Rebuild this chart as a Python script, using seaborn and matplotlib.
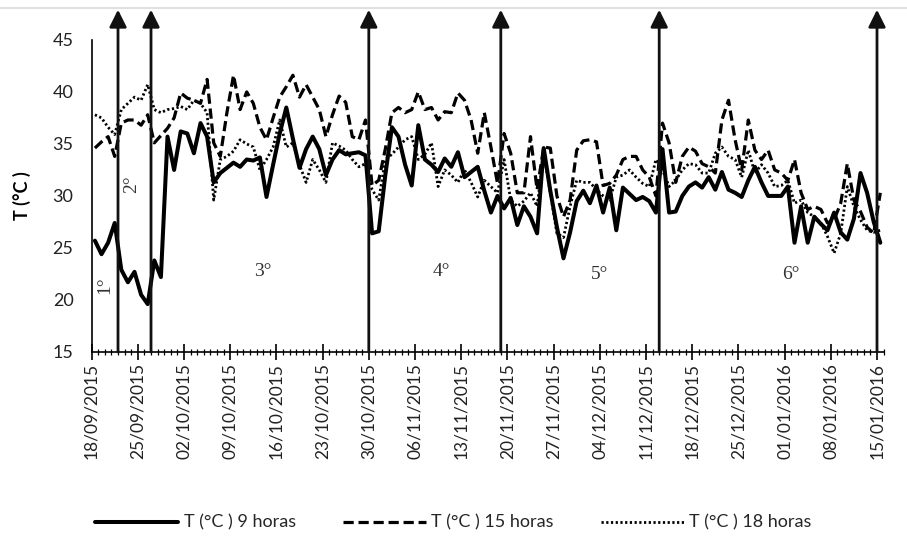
import numpy as np
import pandas as pd
import matplotlib
matplotlib.use("Agg")
import matplotlib.pyplot as plt
import matplotlib.dates as mdates
from matplotlib.lines import Line2D
import seaborn as sns

# ---------------- data ----------------
start_date = "2015-09-18"
series_names = ["T (°C ) 9 horas", "T (°C ) 15 horas", "T (°C ) 18 horas"]

t9 = [25.7, 24.4, 25.5, 27.4, 22.9, 21.7, 22.7, 20.5, 19.6, 23.8,
      22.2, 35.7, 32.5, 36.2, 36.0, 34.1, 37.0, 35.7, 31.3, 32.2,
      32.7, 33.2, 32.8, 33.5, 33.4, 33.7, 29.9, 33.0, 36.0, 38.5,
      35.5, 32.7, 34.5, 35.7, 34.5, 32.0, 33.5, 34.4, 34.0, 34.1,
      34.2, 33.9, 26.4, 26.6, 32.0, 36.6, 35.7, 33.0, 31.0, 36.8,
      33.5, 33.0, 32.3, 33.6, 32.8, 34.2, 31.8, 32.3, 32.8, 30.5,
      28.4, 30.0, 28.8, 29.8, 27.2, 29.0, 28.0, 26.4, 34.6, 30.5,
      27.0, 24.0, 26.5, 29.5, 30.5, 29.3, 31.0, 28.4, 30.8, 26.7,
      30.8, 30.2, 29.6, 29.9, 29.5, 28.4, 34.5, 28.4, 28.5, 30.0,
      30.9, 31.3, 30.8, 31.8, 30.6, 32.3, 30.6, 30.3, 29.9, 31.5,
      32.8, 31.3, 30.0, 30.0, 30.0, 30.9, 25.5, 29.0, 25.5, 28.0,
      27.3, 26.7, 28.4, 26.5, 25.8, 27.8, 32.2, 30.3, 27.5, 25.5]

t15 = [34.6, 35.2, 35.7, 33.8, 37.0, 37.3, 37.3, 36.8, 37.8, 35.1,
       35.8, 36.5, 37.5, 39.9, 39.4, 39.2, 38.9, 41.2, 35.1, 33.8,
       38.0, 41.6, 38.3, 40.0, 38.9, 36.6, 35.4, 37.5, 39.5, 40.5,
       41.6, 39.5, 40.7, 39.5, 38.3, 35.7, 37.8, 39.6, 39.0, 35.7,
       35.4, 37.3, 31.0, 31.5, 34.5, 38.0, 38.5, 38.0, 38.3, 40.0,
       38.3, 38.5, 37.3, 38.1, 38.0, 39.9, 39.2, 37.3, 34.1, 38.0,
       34.7, 31.2, 36.0, 34.1, 30.3, 30.3, 35.7, 30.6, 34.7, 34.6,
       30.0, 28.0, 29.6, 34.4, 35.3, 35.4, 35.2, 31.0, 31.2, 32.0,
       33.5, 33.8, 33.8, 32.5, 31.8, 30.0, 37.0, 35.1, 31.3, 33.8,
       34.7, 34.3, 33.1, 32.8, 32.2, 37.3, 39.2, 35.4, 32.5, 37.3,
       34.4, 33.5, 34.4, 32.5, 32.2, 31.5, 33.5, 30.3, 28.7, 29.0,
       28.7, 27.4, 27.7, 29.3, 33.1, 29.6, 28.5, 27.0, 26.4, 30.3]

t18 = [37.8, 37.5, 36.6, 35.9, 38.3, 38.9, 39.5, 39.2, 40.7, 38.3,
       38.0, 38.3, 38.4, 38.6, 38.3, 39.2, 38.9, 38.0, 29.6, 33.5,
       33.8, 34.3, 35.4, 35.0, 34.7, 32.5, 33.5, 34.7, 37.3, 34.7,
       35.1, 33.0, 31.3, 33.5, 32.5, 31.3, 35.1, 34.8, 34.4, 33.5,
       32.8, 33.1, 30.6, 29.6, 33.5, 34.0, 34.7, 35.4, 35.7, 33.5,
       34.0, 35.1, 30.9, 32.5, 32.0, 31.3, 32.5, 31.3, 29.9, 31.5,
       30.9, 30.3, 33.5, 29.6, 29.0, 29.5, 30.3, 29.0, 34.1, 30.3,
       26.4, 26.0, 29.0, 31.5, 31.3, 31.3, 30.6, 30.0, 29.6, 31.8,
       32.0, 32.5, 31.8, 31.2, 30.9, 33.5, 32.5, 30.9, 31.5, 32.5,
       33.1, 33.0, 32.2, 32.2, 34.1, 34.7, 33.8, 33.5, 31.8, 34.4,
       32.2, 33.0, 32.2, 30.9, 31.0, 31.5, 29.3, 29.6, 28.4, 28.0,
       27.4, 26.1, 24.5, 26.4, 30.9, 29.0, 27.7, 26.7, 26.5, 26.7]

stage_dates = ["2015-09-22", "2015-09-27", "2015-10-30",
               "2015-11-19", "2015-12-13", "2016-01-15"]
stage_labels = ["1°", "2°", "3°", "4°", "5°", "6°"]
stage_label_dates = ["2015-09-20", "2015-09-24", "2015-10-14",
                     "2015-11-10", "2015-12-04", "2016-01-02"]
stage_label_temps = [21.4, 31.1, 22.7, 22.7, 22.4, 22.4]
y_ticks = [15, 20, 25, 30, 35, 40, 45]

# ---------------- build frame ----------------
n = len(t9)
day0 = pd.Timestamp(start_date)
dates = pd.date_range(start_date, periods=n, freq="D") + pd.Timedelta(hours=12)
df = pd.DataFrame({
    "Fecha": np.tile(dates, 3),
    "T": t9 + t15 + t18,
    "Serie": np.repeat(series_names, n),
})

sns.set_theme(style="white")
plt.rcParams["font.family"] = ["Lato", "DejaVu Sans"]

fig = plt.figure(figsize=(9.07, 5.39), dpi=100)
ax = fig.add_axes([0.101, 0.347, 0.8732, 0.579])

styles = {
    series_names[0]: dict(lw=2.9, ls="-"),
    series_names[1]: dict(lw=2.3, ls=(0, (3.2, 1.5))),
    series_names[2]: dict(lw=2.0, ls=(0, (0.8, 0.9))),
}
handles = []
for name in series_names:
    sub = df[df["Serie"] == name]
    st = styles[name]
    sns.lineplot(data=sub, x="Fecha", y="T", color="black",
                 linewidth=st["lw"], linestyle=st["ls"], ax=ax, legend=False)
    handles.append(Line2D([0], [0], color="black", lw=st["lw"], ls=st["ls"], label=name))

# axes limits & ticks
ax.set_xlim(mdates.date2num(day0), mdates.date2num(day0 + pd.Timedelta(days=n)))
ax.set_ylim(15, 45)
ax.set_yticks(y_ticks)
ax.set_yticklabels([str(v) for v in y_ticks], fontsize=13, color="#222222")
ax.tick_params(axis="y", length=0, pad=13)

major = pd.date_range(start_date, "2016-01-15", freq="7D")
ax.xaxis.set_major_locator(matplotlib.ticker.FixedLocator(mdates.date2num(major)))
ax.xaxis.set_major_formatter(matplotlib.ticker.FixedFormatter([d.strftime("%d/%m/%Y") for d in major]))
minor = pd.date_range(start_date, periods=n + 1, freq="D")
ax.xaxis.set_minor_locator(matplotlib.ticker.FixedLocator(mdates.date2num(minor)))
ax.tick_params(axis="x", which="major", direction="inout", length=12, width=1.2,
               color="black", labelsize=12.5, labelrotation=90, pad=2, bottom=True,
               labelcolor="#222222")
ax.tick_params(axis="x", which="minor", direction="inout", length=5, width=0.9,
               color="black", bottom=True)
for lab in ax.get_xticklabels():
    lab.set_va("top")

for s in ["top", "right"]:
    ax.spines[s].set_visible(False)
for s in ["left", "bottom"]:
    ax.spines[s].set_color("black")
    ax.spines[s].set_linewidth(1.2)

ax.set_xlabel("")
ax.set_ylabel("T (°C )", fontsize=13, fontweight="bold", color="black")
ax.yaxis.set_label_coords(-0.076, 0.5)

# stage arrows
for d in stage_dates:
    xd = mdates.date2num(pd.Timestamp(d))
    ax.annotate("", xy=(xd, 47.9), xytext=(xd, 15), xycoords="data",
                arrowprops=dict(arrowstyle="-|>", color="#111111", lw=2.0,
                                mutation_scale=26, shrinkA=0, shrinkB=0),
                annotation_clip=False)

# stage labels
for lab, d, tv in zip(stage_labels, stage_label_dates, stage_label_temps):
    xd = mdates.date2num(pd.Timestamp(d))
    rot = 90 if lab in ("1°", "2°") else 0
    ax.text(xd, tv, lab, fontsize=14, family="Liberation Serif", color="#333333",
            rotation=rot, ha="center", va="center")

# legend
fig.legend(handles=handles, loc="center", bbox_to_anchor=(0.5, 0.03), ncol=3,
           frameon=False, handlelength=4.6, columnspacing=2.6, handletextpad=0.3,
           fontsize=13)

# light frame line at the top of the screenshot
fig.add_artist(Line2D([0, 1], [1 - 8 / 539, 1 - 8 / 539], color="#e0e0e0", lw=1.5,
                      transform=fig.transFigure))

fig.savefig("out.png", dpi=100)
